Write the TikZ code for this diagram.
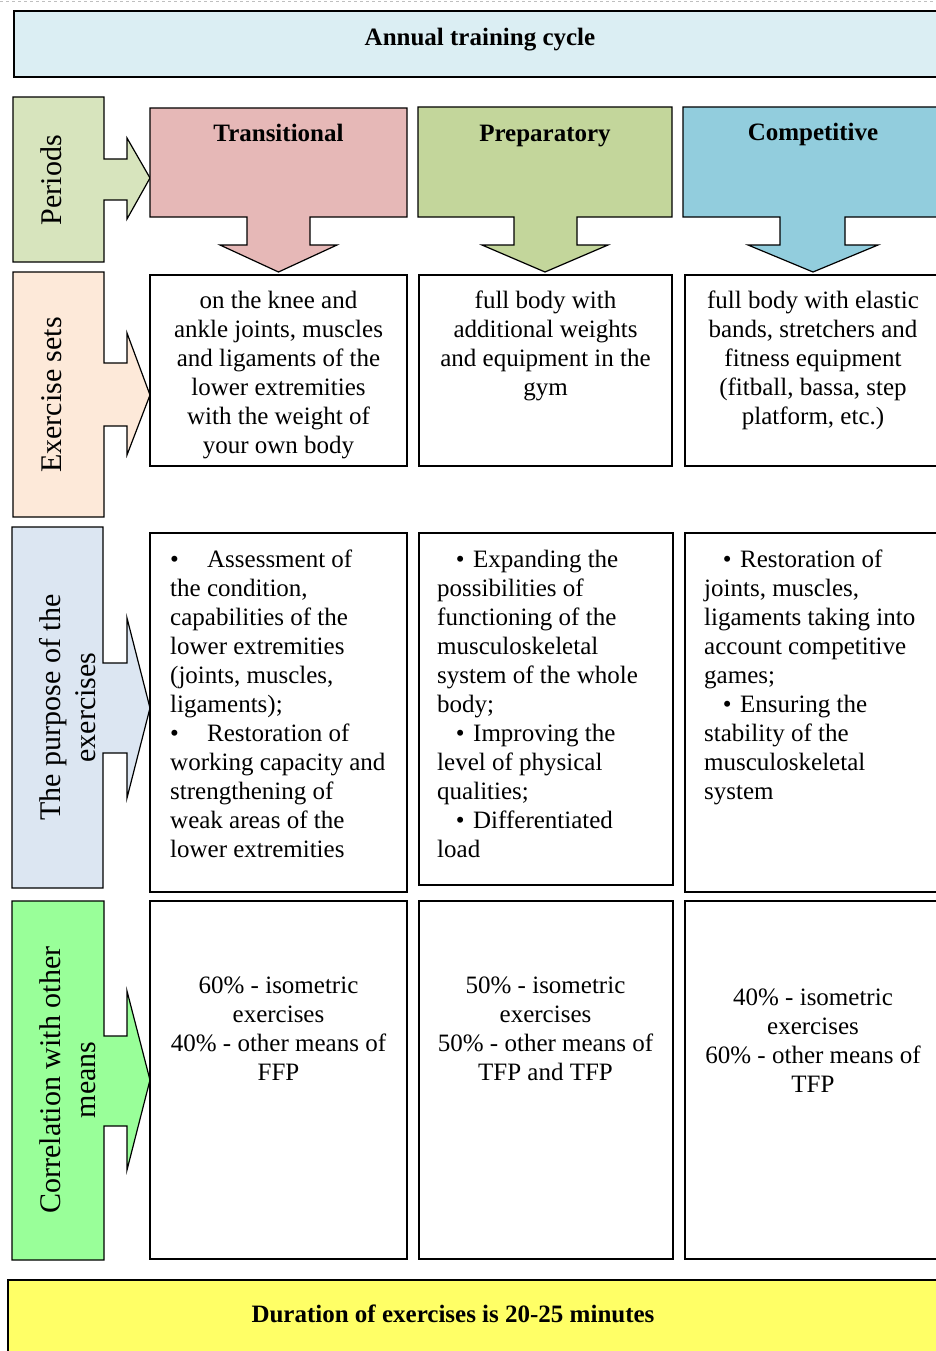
\documentclass[tikz,border=0pt]{standalone}
\usepackage{fontspec}
\setmainfont{Liberation Serif}
\definecolor{topblue}{RGB}{219,238,243}
\definecolor{transp}{RGB}{230,184,183}
\definecolor{prepg}{RGB}{195,214,155}
\definecolor{compb}{RGB}{146,205,221}
\definecolor{perg}{RGB}{215,228,189}
\definecolor{exs}{RGB}{253,233,217}
\definecolor{purb}{RGB}{220,230,242}
\definecolor{corg}{RGB}{153,255,153}
\definecolor{yel}{RGB}{255,255,102}
\begin{document}
\begin{tikzpicture}[x=1pt,y=-1pt,
  shapeline/.style={draw=black, line width=1.2pt, line join=miter},
  cell/.style={draw=black, line width=1.2pt, fill=white, anchor=north west, inner sep=0pt, outer sep=0pt},
  body/.style={font=\fontsize{25}{29}\selectfont, inner sep=0pt, align=center, anchor=north},
  bodyl/.style={font=\fontsize{25}{29}\selectfont, inner sep=0pt, align=left, anchor=north west},
  head/.style={font=\bfseries\fontsize{25}{29}\selectfont, inner sep=0pt, anchor=base},
  sidelabel/.style={font=\fontsize{30}{35}\selectfont, inner sep=0pt, rotate=90},
  sidetwo/.style={font=\fontsize{30}{35}\selectfont, inner sep=0pt, rotate=90, align=center, anchor=north}]
\newcommand{\bl}{\makebox[37pt][l]{\textbullet}}
\newcommand{\bi}{\hspace*{18.6pt}\makebox[17.4pt][l]{\textbullet}}
\useasboundingbox (0,0) rectangle (936,1351);
\draw[black!25, dashed, line width=0.8pt] (0,1.5) -- (936,1.5);
% top box
\node[cell, fill=topblue, line width=1.8pt, minimum width=932pt, minimum height=66pt] (topbox) at (14,11) {};
\node[head] (toptext) at (480,46) {Annual training cycle};
% left callouts
\filldraw[shapeline, fill=perg] (13,97) -- (104,97) -- (104,159) -- (127,159) -- (127,138) -- (150,178) -- (127,219) -- (127,200) -- (104,200) -- (104,262) -- (13,262) -- cycle;
\node[sidelabel, anchor=base] (periods) at (61,180) {Periods};
\filldraw[shapeline, fill=exs] (13,272) -- (104,272) -- (104,363) -- (127,363) -- (127,333) -- (150,395) -- (127,455) -- (127,426) -- (104,426) -- (104,517) -- (13,517) -- cycle;
\node[sidelabel, anchor=base] (exsets) at (61,395) {Exercise sets};
\filldraw[shapeline, fill=purb] (12,527) -- (103,527) -- (103,663) -- (127,663) -- (127,618) -- (150,708) -- (127,798) -- (127,753) -- (103,753) -- (103,888) -- (12,888) -- cycle;
\node[sidetwo] (purpose) at (35.5,707.5) {\strut The purpose of the\\exercises};
\filldraw[shapeline, fill=corg] (12,901) -- (104,901) -- (104,1036) -- (127,1036) -- (127,991) -- (150,1080) -- (127,1170) -- (127,1126) -- (104,1126) -- (104,1260) -- (12,1260) -- cycle;
\node[sidetwo] (correl) at (35.5,1080) {\strut Correlation with other\\means};
% header callouts
\filldraw[shapeline, fill=transp] (150,108) -- (407,108) -- (407,217) -- (310,217) -- (310,245) -- (337,245) -- (278.5,272) -- (220,245) -- (247,245) -- (247,217) -- (150,217) -- cycle;
\node[head] (trans) at (278.5,142) {Transitional};
\filldraw[shapeline, fill=prepg] (418,107) -- (672,107) -- (672,217) -- (577,217) -- (577,245) -- (608,245) -- (545,272) -- (482,245) -- (514,245) -- (514,217) -- (418,217) -- cycle;
\node[head] (prep) at (545,142) {Preparatory};
\filldraw[shapeline, fill=compb] (683,107) -- (946,107) -- (946,217) -- (845,217) -- (845,245) -- (878,245) -- (813,272) -- (748,245) -- (780,245) -- (780,217) -- (683,217) -- cycle;
\node[head] (comp) at (813,141) {Competitive};
% row 2: exercise sets
\node[cell, minimum width=257pt, minimum height=191pt] (e1) at (150,275) {};
\node[cell, minimum width=253pt, minimum height=191pt] (e2) at (419,275) {};
\node[cell, minimum width=262pt, minimum height=191pt] (e3) at (685,275) {};
\node[body] (e1t) at (278.5,288) {\strut on the knee and\\ankle joints, muscles\\and ligaments of the\\lower extremities\\with the weight of\\your own body};
\node[body] (e2t) at (545.5,288) {\strut full body with\\additional weights\\and equipment in the\\gym};
\node[body] (e3t) at (813,288) {\strut full body with elastic\\bands, stretchers and\\fitness equipment\\(fitball, bassa, step\\platform, etc.)};
% row 3: purpose
\node[cell, minimum width=257pt, minimum height=359pt] (p1) at (150,533) {};
\node[cell, minimum width=254pt, minimum height=352pt] (p2) at (419,533) {};
\node[cell, minimum width=262pt, minimum height=359pt] (p3) at (685,533) {};
\node[bodyl] (p1t) at (170,546.7) {\strut\bl Assessment of\\the condition,\\capabilities of the\\lower extremities\\(joints, muscles,\\ligaments);\\\bl Restoration of\\working capacity and\\strengthening of\\weak areas of the\\lower extremities};
\node[bodyl] (p2t) at (437,546.7) {\strut\bi Expanding the\\possibilities of\\functioning of the\\musculoskeletal\\system of the whole\\body;\\\bi Improving the\\level of physical\\qualities;\\\bi Differentiated\\load};
\node[bodyl] (p3t) at (704,546.7) {\strut\bi Restoration of\\joints, muscles,\\ligaments taking into\\account competitive\\games;\\\bi Ensuring the\\stability of the\\musculoskeletal\\system};
% row 4: correlation
\node[cell, minimum width=257pt, minimum height=358pt] (c1) at (150,901) {};
\node[cell, minimum width=254pt, minimum height=358pt] (c2) at (419,901) {};
\node[cell, minimum width=262pt, minimum height=358pt] (c3) at (685,901) {};
\node[body] (c1t) at (278.5,972.7) {\strut 60\% - isometric\\exercises\\40\% - other means of\\FFP};
\node[body] (c2t) at (545.5,972.7) {\strut 50\% - isometric\\exercises\\50\% - other means of\\TFP and TFP};
\node[body] (c3t) at (813,984.7) {\strut 40\% - isometric\\exercises\\60\% - other means of\\TFP};
% bottom box
\node[cell, fill=yel, line width=1.4pt, minimum width=945pt, minimum height=100pt] (dur) at (8,1280) {};
\node[head] (durtext) at (453,1322) {Duration of exercises is 20-25 minutes};
\end{tikzpicture}
\end{document}
